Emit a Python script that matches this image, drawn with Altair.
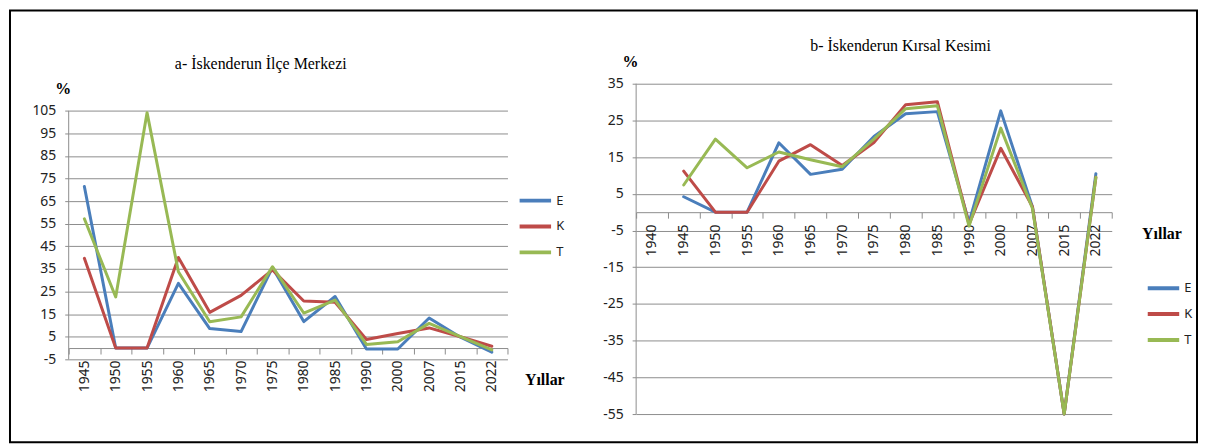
import altair as alt
import pandas as pd

series = ["E", "K", "T"]
colors = ["#4A7EBB", "#BE4B48", "#98B954"]

title_a = "a- İskenderun İlçe Merkezi"
title_b = "b- İskenderun Kırsal Kesimi"
y_title = "%"
x_title = "Yıllar"

years_a = ["1945", "1950", "1955", "1960", "1965", "1970", "1975", "1980",
           "1985", "1990", "2000", "2007", "2015", "2022"]
E_a = [71.5, 0.0, 0.0, 28.6, 8.6, 7.3, 35.6, 11.7, 22.8, -0.4, -0.4, 13.3, 4.8, -1.8]
K_a = [39.7, 0.0, 0.0, 40.1, 15.8, 23.3, 34.6, 20.8, 20.3, 3.8, 6.4, 8.9, 5.0, 0.8]
T_a = [57.2, 22.6, 104.2, 33.8, 11.6, 13.8, 36.0, 15.5, 21.2, 1.6, 2.8, 10.9, 5.0, -0.8]
yticks_a = [-5, 5, 15, 25, 35, 45, 55, 65, 75, 85, 95, 105]

years_b = ["1940", "1945", "1950", "1955", "1960", "1965", "1970", "1975", "1980",
           "1985", "1990", "2000", "2007", "2015", "2022"]
E_b = [None, 4.2, 0.0, 0.0, 18.9, 10.3, 11.7, 20.6, 26.8, 27.4, -2.8, 27.6, 1.4, -55.0, 10.5]
K_b = [None, 11.2, 0.0, 0.0, 13.9, 18.4, 12.7, 19.0, 29.3, 30.1, -3.3, 17.4, 1.5, -55.0, 9.5]
T_b = [None, 7.4, 19.9, 12.1, 16.4, 14.3, 12.4, 19.9, 28.2, 29.0, -3.8, 22.9, 1.0, -55.0, 9.5]
yticks_b = [-55, -45, -35, -25, -15, -5, 5, 15, 25, 35]


def long_df(years, cols):
    rows = []
    for name, vals in zip(series, cols):
        for yr, v in zip(years, vals):
            if v is not None:
                rows.append({"Yıl": yr, "Seri": name, "Değer": v})
    return pd.DataFrame(rows)


df_a = long_df(years_a, [E_a, K_a, T_a])
df_b = long_df(years_b, [E_b, K_b, T_b])

GRID = "#8C8C8C"
LABEL = "#222222"
SANS = "Noto Sans"
SERIF = "'Liberation Serif', 'Times New Roman', 'DejaVu Serif', serif"


def panel(df, years, yticks, ydom, W, H, leg_x, leg_y, pct_xy, yil_xy):
    y0 = H * (ydom[1] - 0) / (ydom[1] - ydom[0])
    xaxis = alt.Axis(
        orient="bottom", offset=y0 - H, tickBand="extent", tickSize=6,
        tickColor=GRID, domainColor=GRID, domainWidth=1, labelAngle=270,
        labelFont=SANS, labelFontSize=14, labelColor=LABEL, labelPadding=6,
        labelOverlap=False, grid=False,
        title=x_title, titleFont=SERIF, titleFontWeight="bold", titleFontSize=16,
        titleColor="black", titleAngle=0, titleAlign="center", titleBaseline="middle",
        titleX=yil_xy[0], titleY=yil_xy[1] - y0,
    )
    yaxis = alt.Axis(
        values=yticks, domain=False, grid=True, gridColor=GRID, gridWidth=1,
        tickSize=4, tickColor=GRID, labelPadding=9, labelFont=SANS,
        labelFontSize=14, labelColor=LABEL, labelExpr="'' + datum.value",
        title=y_title, titleAngle=0, titleX=pct_xy[0], titleY=pct_xy[1],
        titleFont=SERIF, titleFontWeight="bold", titleFontSize=16,
        titleColor="black", titleAlign="center", titleBaseline="middle",
    )
    xs = alt.Scale(domain=years, type="band", paddingInner=0, paddingOuter=0)
    ys = alt.Scale(domain=ydom, nice=False, zero=False)
    lines = alt.Chart(df).mark_line(strokeWidth=3, strokeJoin="round", strokeCap="round").encode(
        x=alt.X("Yıl:N", scale=xs, axis=xaxis, bandPosition=0.5, sort=years),
        y=alt.Y("Değer:Q", scale=ys, axis=yaxis),
        color=alt.Color("Seri:N", scale=alt.Scale(domain=series, range=colors),
                        legend=alt.Legend(title=None, orient="none", legendX=leg_x, legendY=leg_y,
                                          symbolType="stroke", symbolSize=1000,
                                          symbolStrokeWidth=4, rowPadding=-1,
                                          labelFont=SANS, labelFontSize=13,
                                          labelColor=LABEL, labelOffset=3, padding=0)),
    )
    axis_line = alt.Chart(pd.DataFrame({"Değer": [min(yticks)], "hi": [max(yticks)]})).mark_rule(
        color=GRID, strokeWidth=1).encode(
        x=alt.value(0), y=alt.Y("Değer:Q", scale=ys, axis=yaxis), y2="hi:Q")
    return lines, axis_line


W_A, H_A = 441, 277
W_B, H_B = 478, 332
ydom_a = [-5, 117]
ydom_b = [-55, 35]

lines_a, rule_a = panel(df_a, years_a, yticks_a, ydom_a, W_A, H_A,
                        451, 99.5, (-6, 5.3), (478, 380 - 82.7))
lines_b, rule_b = panel(df_b, years_b, yticks_b, ydom_b, W_B, H_B,
                        512, 187.5, (-6.3, -22.7), (528, 233 - 82.7))

title_a_mark = alt.Chart(pd.DataFrame({"t": [title_a]})).mark_text(
    font=SERIF, fontSize=16, color="black", align="center", baseline="middle").encode(
    x=alt.value(262 - 69), y=alt.value(63 - 82.7), text="t:N")
title_b_mark = alt.Chart(pd.DataFrame({"t": [title_b]})).mark_text(
    font=SERIF, fontSize=16, color="black", align="center", baseline="middle").encode(
    x=alt.value(905 - 639.3), y=alt.value(45 - 82.7), text="t:N")

frame = alt.Chart(pd.DataFrame({"f": [1]})).mark_rect(
    fillOpacity=0, stroke="black", strokeWidth=2).encode(
    x=alt.value(10 - 69), x2=alt.value(1203 - 69),
    y=alt.value(9 - 82.7), y2=alt.value(443 - 82.7))

left = alt.layer(frame, rule_a, lines_a, title_a_mark).properties(width=W_A, height=H_A)
right = alt.layer(rule_b, lines_b, title_b_mark).properties(width=W_B, height=H_B)

chart = alt.hconcat(left, right, spacing=639.3 - 69 - W_A, bounds="flush").resolve_scale(
    color="independent").resolve_legend(color="independent").properties(
    padding={"left": 1, "top": 0, "right": 0, "bottom": 0},
    background="white").configure_view(strokeWidth=0)

chart.save("out.html", embed_options={"renderer": "svg", "actions": False})
